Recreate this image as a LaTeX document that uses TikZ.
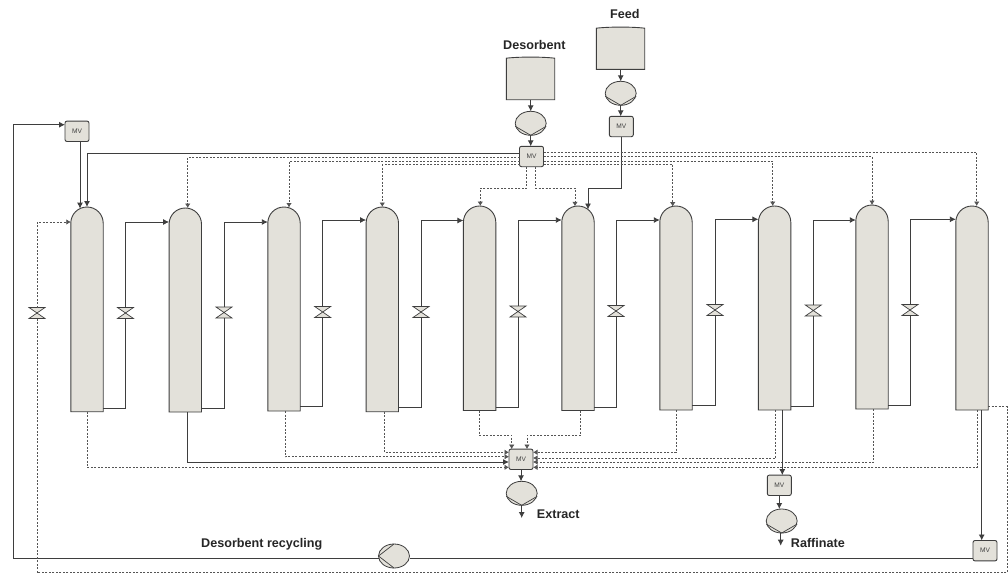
\documentclass[tikz,border=0pt]{standalone}
\usepackage{fontspec}
\setmainfont{Liberation Sans}
\usetikzlibrary{arrows.meta,shapes.geometric}
\definecolor{unitfill}{RGB}{227,225,218}
\definecolor{lineink}{RGB}{62,62,62}
\definecolor{dashink}{RGB}{85,85,85}
\tikzset{
  x=1pt,y=-1pt,
  unitbox/.style={inner sep=0pt,outer sep=0pt},
  mvbox/.style={unitbox,draw=lineink,fill=unitfill,line width=0.9pt,rounded corners=2pt,minimum width=24pt,minimum height=20.4pt,font=\fontsize{6.6}{7}\selectfont,text=black!75},
  pumpbox/.style={unitbox,shape=ellipse,draw=lineink,fill=unitfill,line width=0.8pt,minimum width=31pt,minimum height=24pt},
  label/.style={inner sep=0pt,font=\fontsize{12.6}{14}\bfseries\selectfont,text=black!85},
  pipe/.style={draw=lineink,line width=0.9pt},
  sline/.style={pipe,-{Latex[length=6pt,width=6pt]}},
  dline/.style={draw=dashink,line width=0.75pt,dash pattern=on 2pt off 1.5pt,-{Latex[length=4.5pt,width=5.5pt]}},
  dplain/.style={draw=dashink,line width=0.75pt,dash pattern=on 2pt off 1.5pt},
  shellline/.style={draw=lineink,fill=unitfill,line width=0.9pt}
}
% name, centre x, top y, bottom y
\newcommand{\columnunit}[4]{%
  \node[unitbox,minimum width=32.4pt,minimum height={(#4-#3)*1pt}] (#1) at (#2,{(#3+#4)/2}) {};
  \path[shellline] (#1.south west) -- ([yshift=-16.2pt]#1.north west)
    .. controls ([yshift=-7.2pt]#1.north west) and ([xshift=7.2pt]#1.north west) .. (#1.north)
    .. controls ([xshift=-7.2pt]#1.north east) and ([yshift=-7.2pt]#1.north east) .. ([yshift=-16.2pt]#1.north east)
    -- (#1.south east) -- cycle;
}
% name, centre x, centre y
\newcommand{\valveunit}[3]{%
  \node[unitbox,minimum width=16pt,minimum height=11pt] (#1) at (#2,#3) {};
  \path[draw=lineink,fill=unitfill,line width=0.7pt] (#1.north west) -- (#1.north east) -- (#1.south west) -- (#1.south east) -- cycle;
}
% name, left, top, right, bottom
\newcommand{\tankunit}[5]{%
  \node[unitbox,minimum width={(#4-#2)*1pt},minimum height={(#5-#3)*1pt}] (#1) at ({(#2+#4)/2},{(#3+#5)/2}) {};
  \path[shellline] (#1.south west) -- ([yshift=-1.5pt]#1.north west)
    .. controls ([xshift=12pt]#1.north west) and ([xshift=-12pt]#1.north east) .. ([yshift=-1.5pt]#1.north east)
    -- (#1.south east) -- cycle;
}
% name, centre x, centre y : opening upward
\newcommand{\pumpunit}[3]{%
  \node[pumpbox] (#1) at (#2,#3) {};
  \draw[draw=lineink,line width=0.7pt] ([yshift=-3pt]#1.west) -- (#1.south) -- ([yshift=-3pt]#1.east);
}
\begin{document}
\begin{tikzpicture}
\useasboundingbox (0,0) rectangle (1008,574);
\fill[white] (0,0) rectangle (1008,574);

\columnunit{c1}{87}{207}{411.7}
\columnunit{c2}{185.3}{208}{412}
\columnunit{c3}{284}{207}{411}
\columnunit{c4}{382.3}{207}{411.7}
\columnunit{c5}{479.6}{206}{410.5}
\columnunit{c6}{578}{206}{410.5}
\columnunit{c7}{676}{206}{410}
\columnunit{c8}{774.6}{206}{410}
\columnunit{c9}{872}{205}{409}
\columnunit{c10}{972}{206}{410}

\valveunit{v0}{37}{313}
\valveunit{v1}{125.5}{313}
\valveunit{v2}{224}{312.5}
\valveunit{v3}{322.7}{312}
\valveunit{v4}{421}{312}
\valveunit{v5}{518}{311.5}
\valveunit{v6}{616}{311}
\valveunit{v7}{715}{310}
\valveunit{v8}{813.3}{310.5}
\valveunit{v9}{910}{310}

\tankunit{tf}{596.3}{26.7}{644.7}{69.3}
\tankunit{td}{506.3}{56.7}{554.7}{99.7}

\pumpunit{pf}{620.7}{93.3}
\pumpunit{pd}{530.7}{123.3}
\pumpunit{pe}{521.7}{493.3}
\pumpunit{pr}{781.7}{521}
\node[pumpbox] (ps) at (394,556) {};
\draw[draw=lineink,line width=0.7pt] ([yshift=12pt]ps.center) -- (ps.west) -- ([yshift=-12pt]ps.center);

\node[mvbox] (mv1) at (77,131.3) {MV};
\node[mvbox] (mvt) at (531.5,156.5) {MV};
\node[mvbox] (mvf) at (621.3,126.5) {MV};
\node[mvbox] (mvb) at (521,459.3) {MV};
\node[mvbox] (mvr) at (779.3,485.3) {MV};
\node[mvbox] (mvs) at (985,550.7) {MV};

\node[label,anchor=west] (ldes) at (503,45) {Desorbent};
\node[label,anchor=west] (lfeed) at (610,14.3) {Feed};
\node[label,anchor=west] (lext) at (536.7,514) {Extract};
\node[label,anchor=west] (lraf) at (790.7,543) {Raffinate};
\node[label,anchor=west] (lrec) at (201,544) {Desorbent recycling};

% column to column
\draw[pipe] (c1.east |- 0,408) -| (v1.south);
\draw[sline] (v1.north) |- (c2.west |- 0,222);
\draw[pipe] (c2.east |- 0,408) -| (v2.south);
\draw[sline] (v2.north) |- (c3.west |- 0,222);
\draw[pipe] (c3.east |- 0,406.7) -| (v3.south);
\draw[sline] (v3.north) |- (c4.west |- 0,220);
\draw[pipe] (c4.east |- 0,407) -| (v4.south);
\draw[sline] (v4.north) |- (c5.west |- 0,220.5);
\draw[pipe] (c5.east |- 0,407) -| (v5.south);
\draw[sline] (v5.north) |- (c6.west |- 0,220);
\draw[pipe] (c6.east |- 0,407) -| (v6.south);
\draw[sline] (v6.north) |- (c7.west |- 0,220);
\draw[pipe] (c7.east |- 0,405.7) -| (v7.south);
\draw[sline] (v7.north) |- (c8.west |- 0,219.3);
\draw[pipe] (c8.east |- 0,406) -| (v8.south);
\draw[sline] (v8.north) |- (c9.west |- 0,220);
\draw[pipe] (c9.east |- 0,405.7) -| (v9.south);
\draw[sline] (v9.north) |- (c10.west |- 0,219.3);

% feed and desorbent trains
\draw[sline] (tf.south -| pf.north) -- (pf.north);
\draw[sline] (pf.south) -- (mvf.north -| pf.south);
\draw[sline] (mvf.south) |- (588,188.3) -- ([xshift=10pt,yshift=-3.5pt]c6.north);
\draw[sline] (td.south -| pd.north) -- (pd.north);
\draw[sline] (pd.south) -- (mvt.north -| pd.south);

% solid lines to and from recycling valve
\draw[sline] (mvt.west |- 0,153.5) -| (c1.north);
\draw[sline] (mv1.south -| 80,0) -- ([xshift=-7pt,yshift=-1.6pt]c1.north);
\draw[pipe] (mvs.west |- 0,558) -- (ps.east |- 0,558);
\draw[sline] (ps.west |- 0,558) -| (13,124.7) -- (mv1.west |- 0,124.7);

% dashed distribution from top valve
\draw[dline] (mvt.west |- 0,157) -| ([xshift=2.4pt]c2.north);
\draw[dline] (mvt.west |- 0,161) -| ([xshift=5pt,yshift=-.5pt]c3.north);
\draw[dline] (mvt.west |- 0,164.7) -| (c4.north);
\draw[dline] (mvt.east |- 0,152.3) -| ([xshift=4.7pt]c10.north);
\draw[dline] (mvt.east |- 0,156.7) -| (c9.north);
\draw[dline] (mvt.east |- 0,161) -| ([xshift=-1.9pt]c8.north);
\draw[dline] (mvt.east |- 0,164.3) -| ([xshift=-3.3pt,yshift=-.6pt]c7.north);
\draw[dline] (mvt.south -| 526.7,0) |- (480.3,188.3) -- ([xshift=.7pt]c5.north);
\draw[dline] (mvt.south -| 535.7,0) |- (575,188.3) -- ([xshift=-3pt,yshift=-.3pt]c6.north);

% returns to the bottom valve
\draw[dline] (c1.south) |- (mvb.west |- 0,467.3);
\draw[sline] (c2.south -| 187.7,0) |- (mvb.west |- 0,462);
\draw[dline] (c3.south -| 285,0) |- (mvb.west |- 0,456.7);
\draw[dline] (c4.south -| 384.3,0) |- (mvb.west |- 0,452.3);
\draw[dline] (c5.south) |- (511.7,435.3) -- (mvb.north -| 511.7,0);
\draw[dline] (c6.south -| 580.3,0) |- (527,435.3) -- (mvb.north -| 527,0);
\draw[dline] (c7.south) |- (mvb.east |- 0,452.3);
\draw[dline] (c8.south -| 775.7,0) |- (mvb.east |- 0,458);
\draw[dline] (c9.south -| 873.7,0) |- (mvb.east |- 0,462);
\draw[dline] (c10.south -| 977,0) |- (mvb.east |- 0,467.3);

% products
\coordinate (eend) at (521.7,518);
\coordinate (rend) at (780.7,545.7);
\draw[sline] (mvb.south) -- (pe.north -| mvb.south);
\draw[sline] (pe.south) -- (eend);
\draw[sline] (c8.south -| 782.3,0) -- (mvr.north -| 782.3,0);
\draw[sline] (mvr.south) -- (pr.north -| mvr.south);
\draw[sline] (pr.south -| rend) -- (rend);
\draw[sline] (c10.south -| 981.7,0) -- (mvs.north -| 981.7,0);

% dashed recycle
\draw[dplain] (c10.east |- 0,406.7) -- (1007,406.7) -- (1007,572.7) -| (v0.south);
\draw[dline] (v0.north) |- (c1.west |- 0,222);
\end{tikzpicture}
\end{document}
